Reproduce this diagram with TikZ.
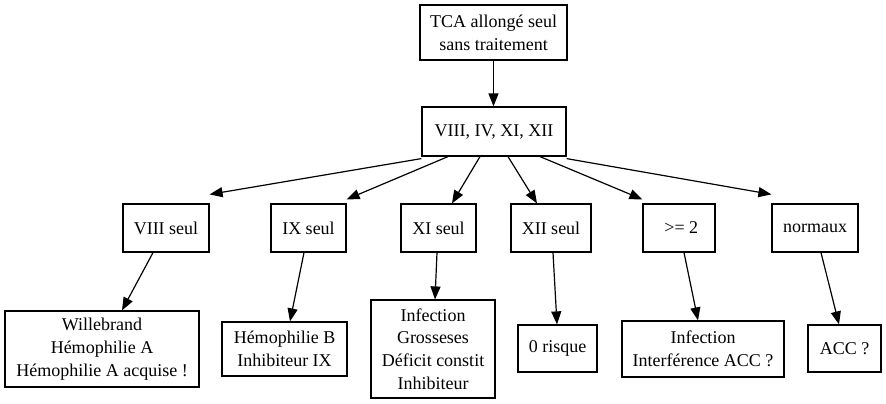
\documentclass[tikz,border=0pt]{standalone}
\usepackage{fontspec}
\setmainfont{Liberation Serif}
\usetikzlibrary{arrows.meta}
\begin{document}
\begin{tikzpicture}[x=1pt,y=-1pt,
  box/.style={draw=black,line width=1.2pt,inner sep=0pt,align=center,
    font=\fontsize{18}{22.7}\selectfont},
  arr/.style={line width=1.2pt,-{Triangle[length=13pt,width=10pt]}}]
\useasboundingbox (0,0) rectangle (886,404);
\node[box,minimum width=147pt,minimum height=55pt] (tca) at (493.5,32.5) {TCA allongé seul\\sans traitement};
\node[box,minimum width=144pt,minimum height=49pt] (hub) at (494,131.5) {VIII, IV, XI, XII};
\node[box,minimum width=86pt,minimum height=48pt] (v8) at (166,228) {VIII seul};
\node[box,minimum width=75pt,minimum height=48pt] (v9) at (308.5,228) {IX seul};
\node[box,minimum width=75pt,minimum height=48pt] (v11) at (438.5,228) {XI seul};
\node[box,minimum width=80pt,minimum height=48pt] (v12) at (551,228) {XII seul};
\node[box,minimum width=72pt,minimum height=48pt] (v2) at (679,228) {\ >= 2};
\node[box,minimum width=86pt,minimum height=48pt] (vn) at (815,228) {normaux};
\node[box,minimum width=194pt,minimum height=76pt] (b8) at (102,349) {Willebrand\\Hémophilie A\\Hémophilie A acquise !};
\node[box,minimum width=125pt,minimum height=54pt] (b9) at (284.5,349) {Hémophilie B\\Inhibiteur IX};
\node[box,minimum width=124pt,minimum height=98pt] (b11) at (433,349) {Infection\\Grosseses\\Déficit constit\\Inhibiteur};
\node[box,minimum width=79pt,minimum height=47pt] (b12) at (557.5,348.5) {0 risque};
\node[box,minimum width=162pt,minimum height=56pt] (b2) at (703,349) {Infection\\Interférence ACC ?};
\node[box,minimum width=73pt,minimum height=47pt] (bn) at (844.5,348.5) {ACC ?};
\draw[arr] (tca.south) -- (tca.south |- hub.north);
\draw[arr] ([yshift=-2pt]hub.south west) -- ([yshift=9pt]v8.north east);
\draw[arr] ([xshift=-46pt]hub.south) -- ([yshift=4pt]v9.north east);
\draw[arr] ([xshift=-14pt]hub.south) -- ([xshift=13.5pt]v11.north);
\draw[arr] ([xshift=14pt]hub.south) -- ([xshift=-14pt]v12.north);
\draw[arr] ([xshift=46pt]hub.south) -- ([yshift=4pt]v2.north west);
\draw[arr] ([yshift=-2pt]hub.south east) -- ([yshift=9pt]vn.north west);
\draw[arr] ([xshift=-13pt]v8.south) -- ([xshift=20pt]b8.north);
\draw[arr] ([xshift=-4.5pt]v9.south) -- ([xshift=5.5pt]b9.north);
\draw[arr] ([xshift=-1.5pt]v11.south) -- ([xshift=2pt]b11.north);
\draw[arr] ([xshift=2pt]v12.south) -- ([xshift=-0.5pt]b12.north);
\draw[arr] ([xshift=5pt]v2.south) -- ([xshift=-5pt]b2.north);
\draw[arr] ([xshift=6pt]vn.south) -- ([xshift=-5.5pt]bn.north);
\end{tikzpicture}
\end{document}
